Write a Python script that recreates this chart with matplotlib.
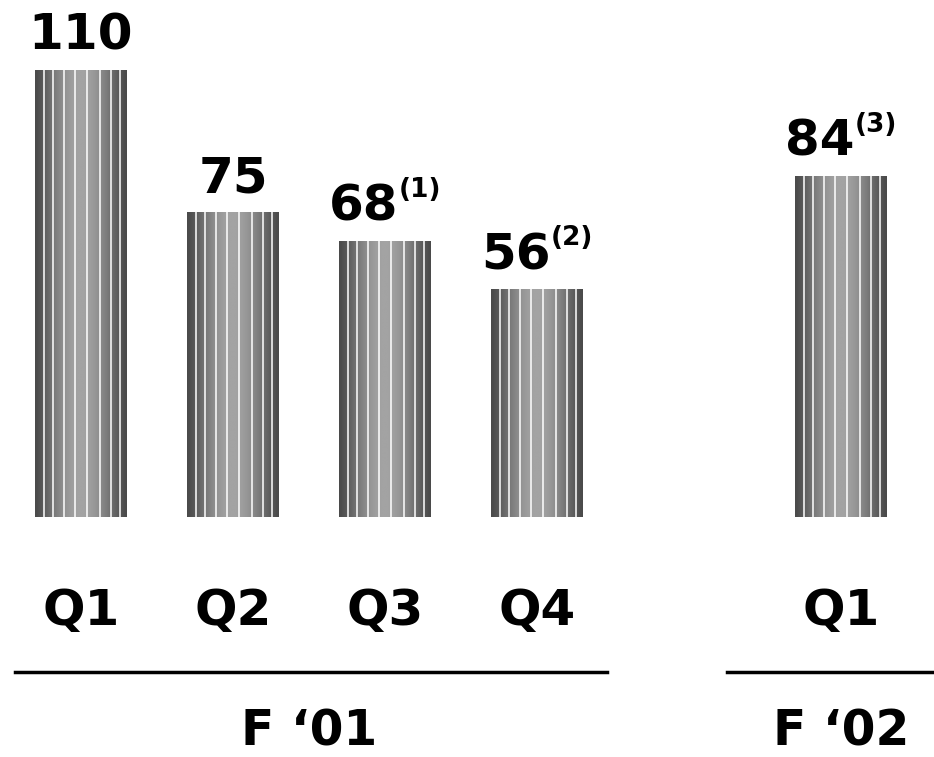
import numpy as np
import matplotlib
matplotlib.use("Agg")
import matplotlib.pyplot as plt

# Quarterly values
quarters = ["Q1", "Q2", "Q3", "Q4", "Q1"]
values = [110, 75, 68, 56, 84]
notes = ["", "", "(1)", "(2)", "(3)"]
positions = [0, 1, 2, 3, 5]
groups = ["F \u201801", "F \u201802"]
group_centers = [1.5, 5.0]

W, H, DPI = 934, 757, 100
fig = plt.figure(figsize=(W / DPI, H / DPI), dpi=DPI)
ax = fig.add_axes([0, 0, 1, 1])
ax.set_xlim(-0.533, 5.612)
ax.set_ylim(-59.06, 127.2)
ax.axis("off")

font = {"family": "DejaVu Sans", "weight": "bold"}

bars = ax.bar(positions, values, width=0.6, color="none", edgecolor="none")

# cylindrical shading with thin white seams
t = np.linspace(0, 1, 200)
shade = 0.29 + (0.64 - 0.29) * np.sin(np.pi * t) ** 1.3
img = np.tile(shade, (2, 1))
seams = [0.09, 0.19, 0.31, 0.43, 0.57, 0.71, 0.83, 0.93]
for b in bars:
    x0, w, h = b.get_x(), b.get_width(), b.get_height()
    im = ax.imshow(img, cmap="gray", vmin=0, vmax=1, aspect="auto",
                   extent=(x0, x0 + w, 0, h), interpolation="bilinear", zorder=2)
    im.set_clip_path(b)
    for s in seams:
        ax.plot([x0 + s * w] * 2, [0, h], color="white", lw=1.1, zorder=3,
                solid_capstyle="butt")

# value labels, with footnote markers
fig.canvas.draw()
renderer = fig.canvas.get_renderer()
for p, v, n in zip(positions, values, notes):
    main = ax.annotate(str(v), (p, v), xytext=(0, 20), textcoords="offset pixels",
                       ha="center", va="baseline", fontsize=36, zorder=5, **font)
    if n:
        sup = ax.annotate(n, (p, v), xytext=(0, 20), textcoords="offset pixels",
                          ha="left", va="baseline", fontsize=19, zorder=5, **font)
        mw = main.get_window_extent(renderer).width
        sw = sup.get_window_extent(renderer).width
        gap = 0
        total = mw + gap + sw
        main.set_position((-total / 2 + mw / 2, 20))
        sup.set_position((-total / 2 + mw + gap, 20 + 24))

# quarter labels
for p, q in zip(positions, quarters):
    ax.text(p, -26.6, q, ha="center", va="baseline", fontsize=36, **font)

# fiscal year brackets and labels
ax.plot([-0.434, 3.46], [-38.1, -38.1], color="black", lw=2.5, clip_on=False)
ax.plot([4.25, 5.8], [-38.1, -38.1], color="black", lw=2.5, clip_on=False)
for c, g in zip(group_centers, groups):
    ax.text(c, -56.2, g, ha="center", va="baseline", fontsize=35, **font)

fig.savefig("out.png", dpi=DPI, facecolor="white")
